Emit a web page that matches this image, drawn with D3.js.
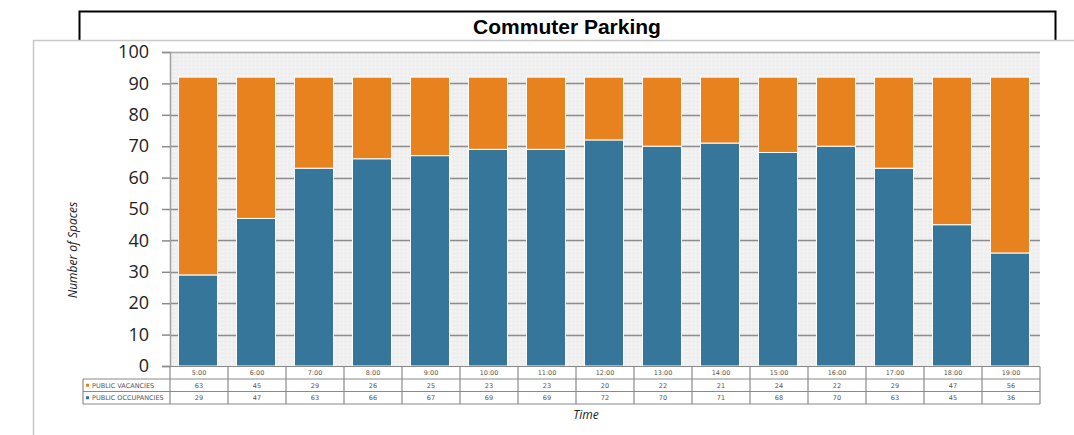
<!DOCTYPE html>
<html>
<head>
<meta charset="utf-8">
<script src="https://cdn.jsdelivr.net/npm/d3@7"></script>
<style>
  html, body { margin: 0; padding: 0; background: #fff; }
  svg { display: block; }
</style>
</head>
<body>
<svg id="chart" width="1074" height="435"></svg>
<script>
// Hourly commuter parking counts
const times = ["5:00","6:00","7:00","8:00","9:00","10:00","11:00","12:00","13:00","14:00","15:00","16:00","17:00","18:00","19:00"];
const occupancies = [29,47,63,66,67,69,69,72,70,71,68,70,63,45,36];
const vacancies   = [63,45,29,26,25,23,23,20,22,21,24,22,29,47,56];
const yTicks = [0,10,20,30,40,50,60,70,80,90,100];
const seriesNames = ["PUBLIC VACANCIES", "PUBLIC OCCUPANCIES"];

const colors = { vac: "#E8821F", occ: "#36769A" };

const svg = d3.select("#chart");
const plot = { left: 170, right: 1040, top: 52, bottom: 366 };

// Frame around the title and the chart panel
svg.append("path")
  .attr("d", "M79.5,40 V11.5 H1055.5 V40")
  .attr("fill", "none").attr("stroke", "#000").attr("stroke-width", 2);
svg.append("path")
  .attr("d", "M1074,40.5 H33.5 V435")
  .attr("fill", "none").attr("stroke", "#c8c8c8").attr("stroke-width", 1.5);

svg.append("text")
  .attr("x", 567).attr("y", 34)
  .attr("text-anchor", "middle")
  .attr("font-family", "Liberation Sans, Arial, sans-serif")
  .attr("font-weight", "bold").attr("font-size", 21)
  .text("Commuter Parking");

// Scales
const x = d3.scaleBand().domain(times).range([plot.left, plot.right]).padding(0);
const barW = 39;
const y = d3.scaleLinear().domain([0, 100]).range([plot.bottom, plot.top]);

// Plot background with a faint dotted texture
const defs = svg.append("defs");
const pat = defs.append("pattern").attr("id", "tex").attr("width", 4).attr("height", 4)
  .attr("patternUnits", "userSpaceOnUse");
pat.append("rect").attr("width", 4).attr("height", 4).attr("fill", "#f0f0f0");
pat.append("rect").attr("x", 1).attr("y", 1).attr("width", 1).attr("height", 1).attr("fill", "#e6e6e6");
pat.append("rect").attr("x", 3).attr("y", 3).attr("width", 1).attr("height", 1).attr("fill", "#f7f7f7");

svg.append("rect")
  .attr("x", plot.left).attr("y", plot.top)
  .attr("width", plot.right - plot.left).attr("height", plot.bottom - plot.top)
  .attr("fill", "url(#tex)");

// Gridlines
svg.append("g").selectAll("line")
  .data(yTicks.filter(t => t > 0 && t < 100))
  .join("line")
  .attr("x1", plot.left).attr("x2", plot.right)
  .attr("y1", d => Math.round(y(d)) + 0.5).attr("y2", d => Math.round(y(d)) + 0.5)
  .attr("stroke", "#8c8c8c").attr("stroke-width", 1.5);

svg.append("line")
  .attr("x1", plot.left).attr("x2", plot.right)
  .attr("y1", plot.top + 0.5).attr("y2", plot.top + 0.5)
  .attr("stroke", "#a8a8a8").attr("stroke-width", 1.5);

// Y axis
const yAxis = d3.axisLeft(y).tickValues(yTicks).tickSize(8).tickPadding(13);
const gy = svg.append("g").attr("transform", `translate(${plot.left},0)`).call(yAxis);
gy.select(".domain").attr("stroke", "#a0a0a0").attr("stroke-width", 1.5);
gy.selectAll(".tick line").attr("stroke", "#8c8c8c").attr("stroke-width", 1.5);
gy.selectAll(".tick text")
  .attr("font-family", "Open Sans, Noto Sans, sans-serif")
  .attr("font-size", 18).attr("fill", "#222");

// Stacked bars
const rows = times.map((t, i) => ({ t, occ: occupancies[i], vac: vacancies[i] }));
const barX = d => x(d.t) + (x.bandwidth() - barW) / 2 - 1;
const bars = svg.append("g");
bars.selectAll("rect.occ").data(rows).join("rect")
  .attr("class", "occ")
  .attr("x", barX)
  .attr("width", barW)
  .attr("y", d => y(d.occ))
  .attr("height", d => y(0) - y(d.occ))
  .attr("fill", colors.occ).attr("stroke", "#fff").attr("stroke-width", 1);
bars.selectAll("rect.vac").data(rows).join("rect")
  .attr("class", "vac")
  .attr("x", barX)
  .attr("width", barW)
  .attr("y", d => y(d.occ + d.vac))
  .attr("height", d => y(d.occ) - y(d.occ + d.vac))
  .attr("fill", colors.vac).attr("stroke", "#fff").attr("stroke-width", 1);

// Data table under the plot
const rowY = [366.5, 379, 391.5, 404];
const tbl = svg.append("g").attr("font-family", "DejaVu Sans, sans-serif").attr("font-size", 6.5).attr("fill", "#555");
const gridStroke = "#8a8a8a";

// horizontal rules
tbl.append("line").attr("x1", plot.left).attr("x2", plot.right).attr("y1", rowY[0]).attr("y2", rowY[0]).attr("stroke", gridStroke).attr("stroke-width", 1.2);
[1, 2, 3].forEach(k => {
  tbl.append("line").attr("x1", 83).attr("x2", plot.right).attr("y1", rowY[k]).attr("y2", rowY[k]).attr("stroke", gridStroke).attr("stroke-width", 1.2);
});
// vertical rules
const colEdges = times.map(t => x(t)).concat([plot.right]);
colEdges.forEach(cx => {
  tbl.append("line").attr("x1", cx).attr("x2", cx).attr("y1", rowY[0]).attr("y2", rowY[3]).attr("stroke", gridStroke).attr("stroke-width", 1.2);
});
tbl.append("line").attr("x1", 83).attr("x2", 83).attr("y1", rowY[1]).attr("y2", rowY[3]).attr("stroke", gridStroke).attr("stroke-width", 1.2);

// header times
tbl.selectAll("text.time").data(times).join("text")
  .attr("class", "time")
  .attr("x", d => x(d) + x.bandwidth() / 2).attr("y", (rowY[0] + rowY[1]) / 2 + 2.3)
  .attr("text-anchor", "middle").text(d => d);

// series rows
const seriesRows = [
  { name: seriesNames[0], vals: vacancies, color: colors.vac },
  { name: seriesNames[1], vals: occupancies, color: colors.occ }
];
seriesRows.forEach((s, k) => {
  const cy = (rowY[k + 1] + rowY[k + 2]) / 2;
  tbl.append("rect").attr("x", 86).attr("y", cy - 1.5).attr("width", 3).attr("height", 3).attr("fill", s.color);
  tbl.append("text").attr("x", 92).attr("y", cy + 2.3).text(s.name);
  tbl.selectAll(null).data(s.vals).join("text")
    .attr("x", (d, i) => x(times[i]) + x.bandwidth() / 2).attr("y", cy + 2.3)
    .attr("text-anchor", "middle").text(d => d);
});

// Axis titles
svg.append("text")
  .attr("transform", "translate(77,250) rotate(-90)")
  .attr("text-anchor", "middle")
  .attr("font-family", "Open Sans, Noto Sans, sans-serif")
  .attr("font-style", "italic").attr("font-size", 12).attr("fill", "#222")
  .text("Number of Spaces");

svg.append("text")
  .attr("x", 586).attr("y", 419)
  .attr("text-anchor", "middle")
  .attr("font-family", "Open Sans, Noto Sans, sans-serif")
  .attr("font-style", "italic").attr("font-size", 12).attr("fill", "#222")
  .text("Time");
</script>
</body>
</html>
